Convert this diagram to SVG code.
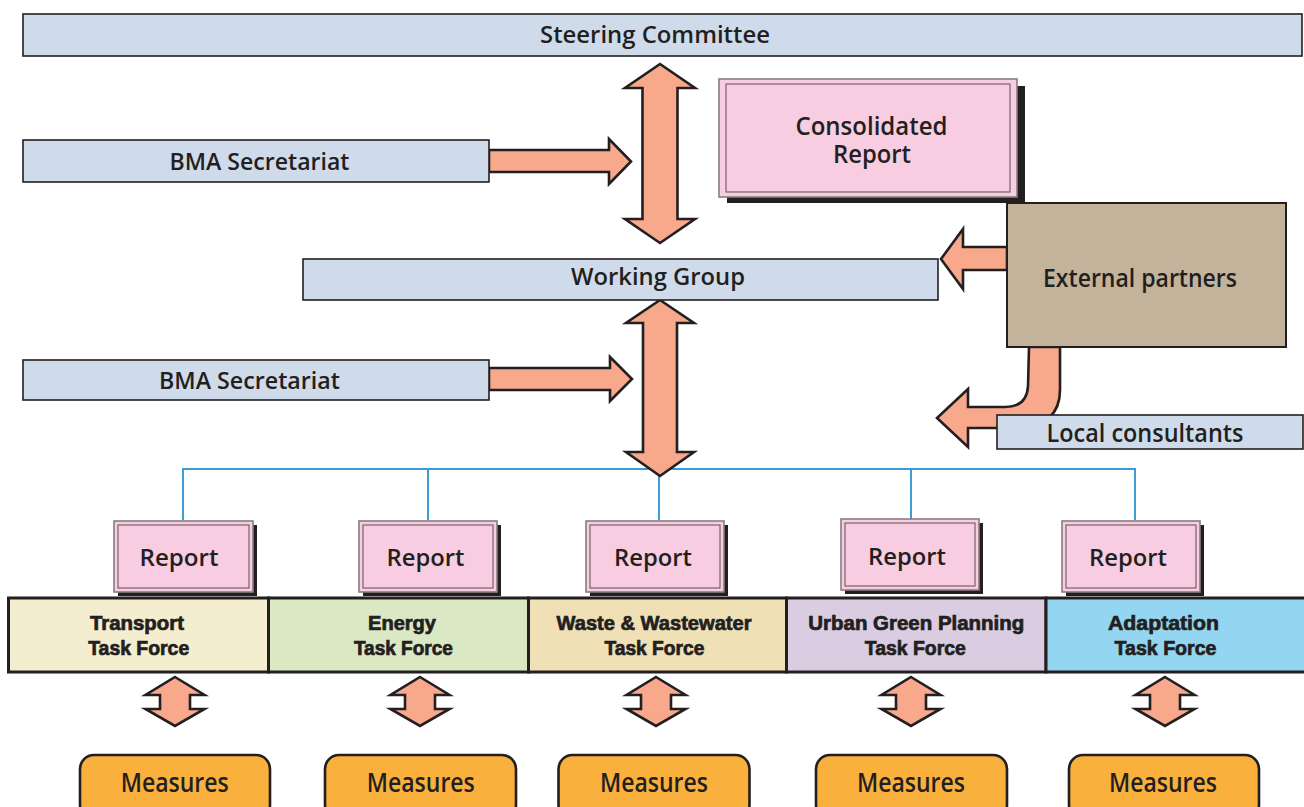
<svg xmlns="http://www.w3.org/2000/svg" width="1304" height="807" viewBox="0 0 1304 807">
<defs>
<style>
.bx{fill:#cfdbea;stroke:#231f20;stroke-width:1.6}
.ar{fill:#f8a98c;stroke:#231f20;stroke-width:2.6;stroke-linejoin:miter}
.t{font-family:"Open Sans","Liberation Sans",sans-serif;font-weight:600;fill:#231f20;text-anchor:middle}
.tf{font-family:"Liberation Sans","Open Sans",sans-serif;font-weight:700;fill:#231f20;stroke:#231f20;stroke-width:0.7;text-anchor:middle;font-size:20px}
.rp{fill:#f8cde1;stroke:#8a7c82;stroke-width:1.6}
.rpi{fill:none;stroke:#5b4e53;stroke-width:1}
.sh{fill:#231f20}
.bl{fill:none;stroke:#3d9bd6;stroke-width:2}
.ms{fill:#fab03d;stroke:#231f20;stroke-width:2.6}
.seg{stroke:#231f20;stroke-width:3}
</style>
<path id="sa" d="M0,0 L29.5,18 L15,18 L15,32 L29.5,32 L0,49 L-29.5,32 L-15,32 L-15,18 L-29.5,18 Z"/>
</defs>

<g id="connectors">
<path class="bl" d="M183,520 V469 H1135 V520 M428,469 V520 M659,469 V520 M911,469 V520"/>
<path class="ar" d="M660,64 L695,88 L677.5,88 L677.5,219 L695,219 L660,243 L625,219 L642.5,219 L642.5,88 L625,88 Z"/>
<path class="ar" d="M660,300 L694,323 L677,323 L677,452 L694,452 L660,476 L626,452 L643,452 L643,323 L626,323 Z"/>
<path class="ar" d="M489,150 L609,150 L609,139 L631,161.5 L609,184 L609,172 L489,172 Z"/>
<path class="ar" d="M489,368 L610,368 L610,357 L632,379 L610,401 L610,390 L489,390 Z"/>
<path class="ar" d="M1007,247 L963,247 L963,229 L941,259 L963,289 L963,270 L1007,270 Z"/>
<path class="ar" d="M1029,347 L1028,386 Q1027,407 1005,407 L968,407 L968,389 L937,418 L968,447 L968,428 L1012,428 Q1060,428 1060,390 L1060,347 Z"/>
<use href="#sa" class="ar" x="175" y="677"/>
<use href="#sa" class="ar" x="420" y="677"/>
<use href="#sa" class="ar" x="656" y="677"/>
<use href="#sa" class="ar" x="911" y="677"/>
<use href="#sa" class="ar" x="1165" y="677"/>
</g>

<g id="steering">
<rect class="bx" x="23" y="14" width="1279" height="42"/>
<text class="t" x="655" y="43" font-size="23" textLength="230" lengthAdjust="spacingAndGlyphs">Steering Committee</text>
</g>

<g id="bma1">
<rect class="bx" x="23" y="140" width="466" height="42"/>
<text class="t" x="259.5" y="170" font-size="23" textLength="180" lengthAdjust="spacingAndGlyphs">BMA Secretariat</text>
</g>

<g id="consolidated">
<rect class="sh" x="727" y="86" width="298" height="117"/>
<rect class="rp" x="719" y="79" width="298" height="118"/>
<rect class="rpi" x="726" y="84" width="284" height="108"/>
<text class="t" font-size="26"><tspan x="871.5" y="135" textLength="152" lengthAdjust="spacingAndGlyphs">Consolidated</tspan><tspan x="872" y="163" textLength="78" lengthAdjust="spacingAndGlyphs">Report</tspan></text>
</g>

<g id="working">
<rect class="bx" x="303" y="259" width="635" height="41"/>
<text class="t" x="658" y="285" font-size="24" textLength="174" lengthAdjust="spacingAndGlyphs">Working Group</text>
</g>

<g id="external">
<rect x="1007" y="203" width="279" height="144" fill="#c4b39b" stroke="#231f20" stroke-width="2"/>
<text class="t" x="1140" y="287" font-size="26" textLength="194" lengthAdjust="spacingAndGlyphs">External partners</text>
</g>

<g id="bma2">
<rect class="bx" x="23" y="360" width="466" height="40"/>
<text class="t" x="249.5" y="389" font-size="23" textLength="181" lengthAdjust="spacingAndGlyphs">BMA Secretariat</text>
</g>

<g id="local">
<rect class="bx" x="997" y="415" width="306" height="34"/>
<text class="t" x="1145" y="442" font-size="25" textLength="197" lengthAdjust="spacingAndGlyphs">Local consultants</text>
</g>

<g id="report1">
<rect class="sh" x="118" y="525" width="139" height="71"/>
<rect class="rp" x="114" y="521" width="139" height="71"/>
<rect class="rpi" x="118" y="525" width="131" height="63"/>
<text class="t" x="179" y="566" font-size="24" textLength="79" lengthAdjust="spacingAndGlyphs">Report</text>
</g>
<g id="report2">
<rect class="sh" x="363" y="525" width="138" height="71"/>
<rect class="rp" x="359" y="521" width="138" height="71"/>
<rect class="rpi" x="363" y="525" width="130" height="63"/>
<text class="t" x="425.5" y="566" font-size="24" textLength="78" lengthAdjust="spacingAndGlyphs">Report</text>
</g>
<g id="report3">
<rect class="sh" x="590" y="525" width="138" height="71"/>
<rect class="rp" x="586" y="521" width="138" height="71"/>
<rect class="rpi" x="590" y="525" width="130" height="63"/>
<text class="t" x="653" y="566" font-size="24" textLength="78" lengthAdjust="spacingAndGlyphs">Report</text>
</g>
<g id="report4">
<rect class="sh" x="845" y="523" width="138" height="71"/>
<rect class="rp" x="841" y="519" width="138" height="71"/>
<rect class="rpi" x="845" y="523" width="130" height="63"/>
<text class="t" x="907" y="565" font-size="24" textLength="78" lengthAdjust="spacingAndGlyphs">Report</text>
</g>
<g id="report5">
<rect class="sh" x="1066" y="525" width="138" height="71"/>
<rect class="rp" x="1062" y="521" width="138" height="71"/>
<rect class="rpi" x="1066" y="525" width="130" height="63"/>
<text class="t" x="1128" y="566" font-size="24" textLength="78" lengthAdjust="spacingAndGlyphs">Report</text>
</g>

<g id="transport">
<rect class="seg" x="8.5" y="598" width="260" height="74" fill="#f4edcf"/>
<text class="tf" x="137" y="630" textLength="94" lengthAdjust="spacingAndGlyphs">Transport</text>
<text class="tf" x="138.7" y="655" textLength="101" lengthAdjust="spacingAndGlyphs">Task Force</text>
</g>
<g id="energy">
<rect class="seg" x="268.5" y="598" width="260" height="74" fill="#dae8c3"/>
<text class="tf" x="402" y="630" textLength="68" lengthAdjust="spacingAndGlyphs">Energy</text>
<text class="tf" x="403.4" y="655" textLength="99" lengthAdjust="spacingAndGlyphs">Task Force</text>
</g>
<g id="waste">
<rect class="seg" x="528.5" y="598" width="258" height="74" fill="#f0e0b6"/>
<text class="tf" x="654" y="630" textLength="195" lengthAdjust="spacingAndGlyphs">Waste &amp; Wastewater</text>
<text class="tf" x="654.4" y="655" textLength="100" lengthAdjust="spacingAndGlyphs">Task Force</text>
</g>
<g id="urban">
<rect class="seg" x="786.5" y="598" width="259.5" height="74" fill="#dacde2"/>
<text class="tf" x="916.3" y="630" textLength="216" lengthAdjust="spacingAndGlyphs">Urban Green Planning</text>
<text class="tf" x="915.3" y="655" textLength="101" lengthAdjust="spacingAndGlyphs">Task Force</text>
</g>
<g id="adaptation">
<rect class="seg" x="1046" y="598" width="262" height="74" fill="#94d5f1"/>
<text class="tf" x="1163.5" y="630" textLength="111" lengthAdjust="spacingAndGlyphs">Adaptation</text>
<text class="tf" x="1165.5" y="655" textLength="102" lengthAdjust="spacingAndGlyphs">Task Force</text>
</g>

<g id="measures1">
<rect class="ms" x="80" y="755" width="190" height="64" rx="14"/>
<text class="t" x="174.7" y="792" font-size="27" textLength="108" lengthAdjust="spacingAndGlyphs">Measures</text>
</g>
<g id="measures2">
<rect class="ms" x="325" y="755" width="191" height="64" rx="14"/>
<text class="t" x="420.8" y="792" font-size="27" textLength="108" lengthAdjust="spacingAndGlyphs">Measures</text>
</g>
<g id="measures3">
<rect class="ms" x="558.5" y="755" width="191" height="64" rx="14"/>
<text class="t" x="654" y="792" font-size="27" textLength="108" lengthAdjust="spacingAndGlyphs">Measures</text>
</g>
<g id="measures4">
<rect class="ms" x="816" y="755" width="191" height="64" rx="14"/>
<text class="t" x="911" y="792" font-size="27" textLength="108" lengthAdjust="spacingAndGlyphs">Measures</text>
</g>
<g id="measures5">
<rect class="ms" x="1069" y="755" width="190" height="64" rx="14"/>
<text class="t" x="1163" y="792" font-size="27" textLength="108" lengthAdjust="spacingAndGlyphs">Measures</text>
</g>
</svg>
